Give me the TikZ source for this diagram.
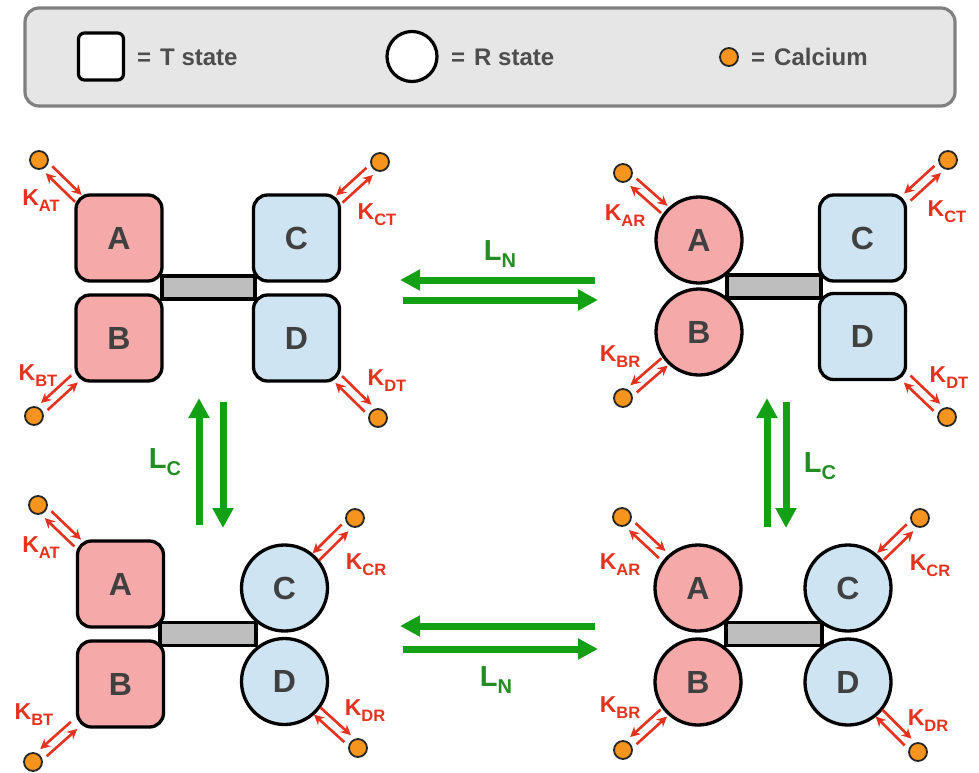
\documentclass[tikz,border=0pt]{standalone}
\usepackage{fontspec}
\setmainfont{Liberation Sans}
\usetikzlibrary{arrows.meta,calc}
\definecolor{pinkf}{HTML}{F5A9A9}
\definecolor{bluef}{HTML}{CFE4F2}
\definecolor{bargray}{HTML}{BEBEBE}
\definecolor{lettergray}{HTML}{404040}
\definecolor{kred}{HTML}{E5321E}
\definecolor{garrc}{HTML}{14A014}
\definecolor{glabc}{HTML}{238C23}
\definecolor{caorange}{HTML}{F7941D}
\definecolor{legfill}{HTML}{E6E6E6}
\definecolor{legdraw}{HTML}{808080}
\definecolor{legtext}{HTML}{4D4D4D}
\newcommand\Klab[1]{{\fontsize{23}{23}\selectfont K}\raisebox{-6pt}{\fontsize{16.5}{16.5}\selectfont #1}}
\newcommand\Llab[1]{{\fontsize{29}{29}\selectfont L}\raisebox{-7pt}{\fontsize{20}{20}\selectfont #1}}
\newcommand\kpair[3]{%
  \draw[kline] ($(#1)!14pt!(#2)!4.8pt!#3:(#2)$) -- ($(#1)!55pt!(#2)!4.8pt!#3:(#2)$);
  \draw[kline] ($(#1)!55pt!(#2)!-4.8pt!#3:(#2)$) -- ($(#1)!14pt!(#2)!-4.8pt!#3:(#2)$);}
\begin{document}
\begin{tikzpicture}[x=1pt,y=-1pt,
  tbox/.style={draw=black, line width=3.3pt, rounded corners=14pt, minimum width=86pt, minimum height=86pt, inner sep=0pt, font=\fontsize{32}{32}\selectfont\bfseries, text=lettergray},
  rcirc/.style={circle, draw=black, line width=3.3pt, minimum size=86pt, inner sep=0pt, font=\fontsize{32}{32}\selectfont\bfseries, text=lettergray},
  barbox/.style={draw=black, fill=bargray, line width=3.3pt, inner sep=0pt, minimum height=23pt},
  ca/.style={circle, draw=black!85, fill=caorange, line width=1.8pt, minimum size=18pt, inner sep=0pt},
  klab/.style={text=kred, inner sep=0pt, font=\bfseries},
  kline/.style={draw=kred, line width=2.6pt, -{Stealth[length=10pt,width=10pt]}},
  garr/.style={draw=garrc, line width=7pt, -{Triangle[length=20pt,width=20pt]}},
  glab/.style={text=glabc, inner sep=0pt, font=\bfseries},
  legbox/.style={draw=legdraw, fill=legfill, line width=3.2pt, rounded corners=14pt, minimum width=930pt, minimum height=98pt},
  legtxt/.style={text=legtext, inner sep=0pt, anchor=west, font=\fontsize{24}{24}\selectfont\bfseries}
]
\useasboundingbox (0,0) rectangle (979,772);
% ---------- legend ----------
\node[legbox] (legend) at (490,57) {};
\node[draw=black, fill=white, line width=3.2pt, rounded corners=6pt, minimum width=45pt, minimum height=47pt] (legT) at (101,56.5) {};
\node[legtxt] (legTt) at (137,57) {=\hspace{9pt}T state};
\node[circle, draw=black, fill=white, line width=3.2pt, minimum size=50pt, inner sep=0pt] (legR) at (412,56.5) {};
\node[legtxt] (legRt) at (451,57) {=\hspace{9pt}R state};
\node[ca] (legC) at (729,57) {};
\node[legtxt] (legCt) at (751,57) {=\hspace{9pt}Calcium};
% ---------- top-left complex (T,T) ----------
\node[tbox, fill=pinkf] (tlA) at (119,238) {A};
\node[tbox, fill=pinkf] (tlB) at (119,338) {B};
\node[tbox, fill=bluef] (tlC) at (296.5,238) {C};
\node[tbox, fill=bluef] (tlD) at (296.5,338) {D};
\node[barbox, minimum width=93pt] (tlbar) at (208.5,287.5) {};
\node[ca] (tlAd) at (39,160) {};
\node[ca] (tlCd) at (380,162) {};
\node[ca] (tlBd) at (34,416) {};
\node[ca] (tlDd) at (378,418) {};
\kpair{tlAd}{tlA}{90}
\kpair{tlCd}{tlC}{-90}
\kpair{tlBd}{tlB}{-90}
\kpair{tlDd}{tlD}{90}
\node[klab] (tlAk) at (41,201) {\Klab{AT}};
\node[klab] (tlCk) at (377,215) {\Klab{CT}};
\node[klab] (tlBk) at (38,376) {\Klab{BT}};
\node[klab] (tlDk) at (387,381) {\Klab{DT}};
% ---------- top-right complex (R,T) ----------
\node[rcirc, fill=pinkf] (trA) at (699,240) {A};
\node[rcirc, fill=pinkf] (trB) at (699,332) {B};
\node[tbox, fill=bluef] (trC) at (862.5,238) {C};
\node[tbox, fill=bluef] (trD) at (862.5,336.5) {D};
\node[barbox, minimum width=94pt] (trbar) at (774,286.5) {};
\node[ca] (trAd) at (623,173) {};
\node[ca] (trCd) at (948,160) {};
\node[ca] (trBd) at (623,398) {};
\node[ca] (trDd) at (947,417) {};
\kpair{trAd}{trA}{90}
\kpair{trCd}{trC}{-90}
\kpair{trBd}{trB}{-90}
\kpair{trDd}{trD}{90}
\node[klab] (trAk) at (625,216) {\Klab{AR}};
\node[klab] (trCk) at (947,212) {\Klab{CT}};
\node[klab] (trBk) at (620,357) {\Klab{BR}};
\node[klab] (trDk) at (949,378) {\Klab{DT}};
% ---------- bottom-left complex (T,R) ----------
\node[tbox, fill=pinkf] (blA) at (120.5,584) {A};
\node[tbox, fill=pinkf] (blB) at (120.5,684) {B};
\node[rcirc, fill=bluef] (blC) at (284.5,588) {C};
\node[rcirc, fill=bluef] (blD) at (284.5,681.5) {D};
\node[barbox, minimum width=96pt] (blbar) at (208,634) {};
\node[ca] (blAd) at (38,505) {};
\node[ca] (blCd) at (355,518) {};
\node[ca] (blBd) at (33,762) {};
\node[ca] (blDd) at (358,748) {};
\kpair{blAd}{blA}{90}
\kpair{blCd}{blC}{-90}
\kpair{blBd}{blB}{-90}
\kpair{blDd}{blD}{90}
\node[klab] (blAk) at (41,548) {\Klab{AT}};
\node[klab] (blCk) at (366,565) {\Klab{CR}};
\node[klab] (blBk) at (34,715) {\Klab{BT}};
\node[klab] (blDk) at (365,711) {\Klab{DR}};
% ---------- bottom-right complex (R,R) ----------
\node[rcirc, fill=pinkf] (brA) at (698,588) {A};
\node[rcirc, fill=pinkf] (brB) at (698,682) {B};
\node[rcirc, fill=bluef] (brC) at (848,588) {C};
\node[rcirc, fill=bluef] (brD) at (848,682) {D};
\node[barbox, minimum width=96pt] (brbar) at (774,634) {};
\node[ca] (brAd) at (622,517) {};
\node[ca] (brCd) at (920,518) {};
\node[ca] (brBd) at (623,750) {};
\node[ca] (brDd) at (918,752) {};
\kpair{brAd}{brA}{90}
\kpair{brCd}{brC}{-90}
\kpair{brBd}{brB}{-90}
\kpair{brDd}{brD}{90}
\node[klab] (brAk) at (620,565) {\Klab{AR}};
\node[klab] (brCk) at (930,566) {\Klab{CR}};
\node[klab] (brBk) at (620,708) {\Klab{BR}};
\node[klab] (brDk) at (928,721) {\Klab{DR}};
% ---------- green equilibrium arrows ----------
\coordinate (nt1) at (595,280); \coordinate (nt2) at (400,280);
\coordinate (nt3) at (403,300); \coordinate (nt4) at (598,300);
\draw[garr] (nt1) -- (nt2);
\draw[garr] (nt3) -- (nt4);
\node[glab] (ntL) at (500,254) {\Llab{N}};
\coordinate (nb1) at (595,626); \coordinate (nb2) at (400,626);
\coordinate (nb3) at (403,649); \coordinate (nb4) at (598,649);
\draw[garr] (nb1) -- (nb2);
\draw[garr] (nb3) -- (nb4);
\node[glab] (nbL) at (496,680) {\Llab{N}};
\coordinate (cl1) at (199,525); \coordinate (cl2) at (199,398);
\coordinate (cl3) at (223,402); \coordinate (cl4) at (223,528);
\draw[garr] (cl1) -- (cl2);
\draw[garr] (cl3) -- (cl4);
\node[glab] (clL) at (165,462) {\Llab{C}};
\coordinate (cr1) at (767,527); \coordinate (cr2) at (767,398);
\coordinate (cr3) at (786,402); \coordinate (cr4) at (786,528);
\draw[garr] (cr1) -- (cr2);
\draw[garr] (cr3) -- (cr4);
\node[glab] (crL) at (820,466) {\Llab{C}};
\end{tikzpicture}
\end{document}
